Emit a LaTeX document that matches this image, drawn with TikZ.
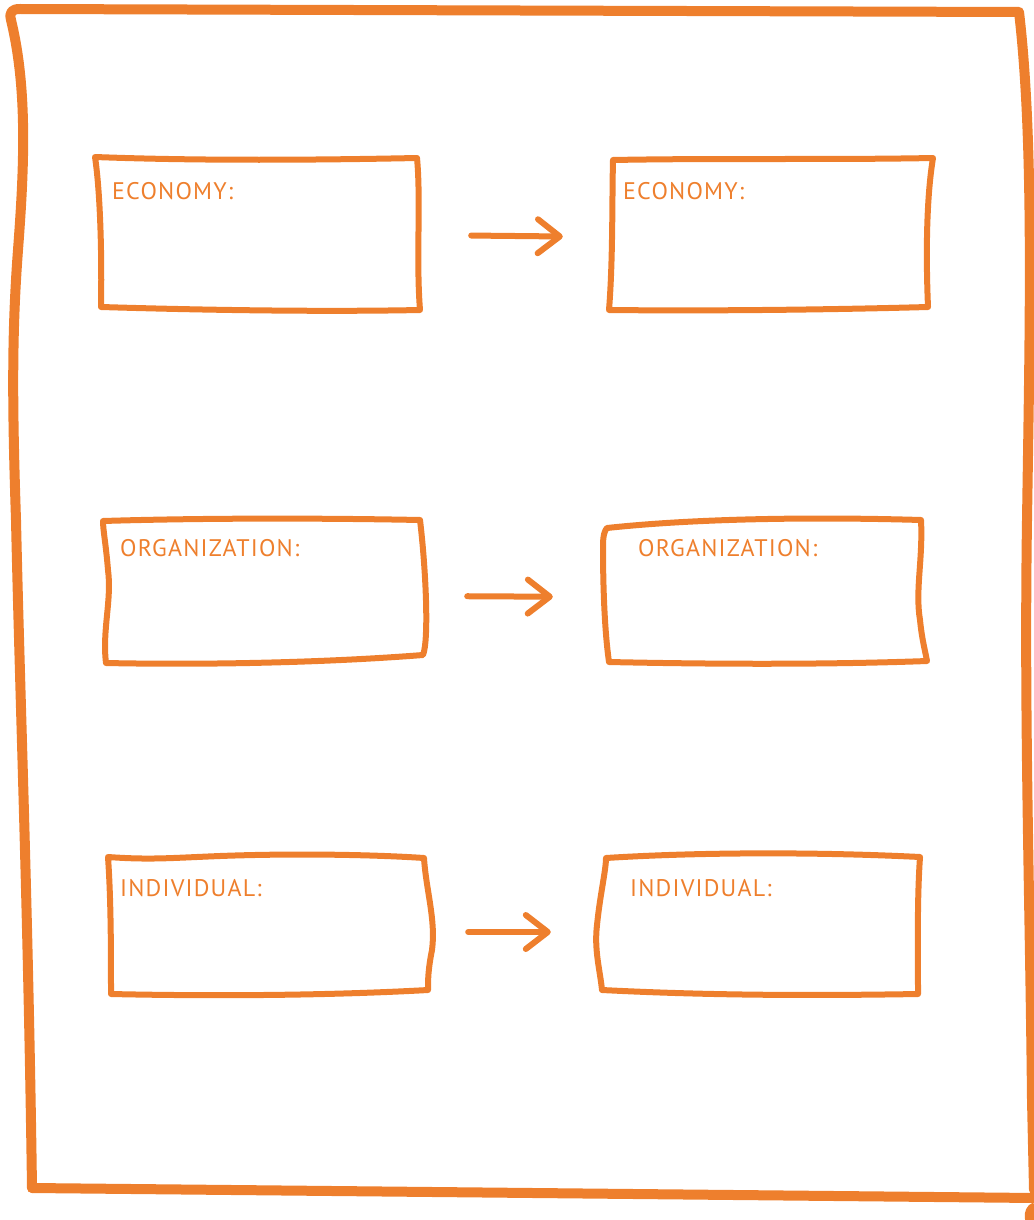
\documentclass[tikz,border=0pt]{standalone}
\usepackage{fontspec}
\setmainfont{PT Sans}
\usetikzlibrary{arrows.meta}
\definecolor{sketch}{RGB}{238,127,45}
\tikzset{
  frame/.style={draw=sketch, line width=10pt, line cap=round, line join=round},
  boxline/.style={draw=sketch, line width=6pt, line cap=round, line join=round},
  boxnode/.style={draw=none, inner sep=0pt, minimum height=152pt},
  lbl/.style={text=sketch, font=\addfontfeatures{LetterSpace=5}\fontsize{24}{28}\selectfont, anchor=base west, inner sep=0pt},
  conn/.style={draw=sketch, line width=6pt, line cap=round, -{Straight Barb[length=22pt,width=34pt,line width=6pt, round]}},
}
\begin{document}
\begin{tikzpicture}[x=1pt,y=-1pt]
\useasboundingbox (0,0) rectangle (1033,1220);
% outer sheet
\draw[frame] (32,1188) .. controls (28,900) and (20,700) .. (16,520)
  .. controls (12,400) and (12,330) .. (18,250)
  .. controls (24,170) and (28,90) .. (11,20)
  .. controls (9,12) and (12,9) .. (20,9)
  -- (1019,12)
  .. controls (1034,140) and (1030,320) .. (1027,520)
  .. controls (1024,720) and (1030,900) .. (1032,1100)
  -- (1034,1190);
\draw[frame] (32,1188) -- (1036,1198);
\draw[frame] (1033,1208) .. controls (1029,1212) and (1029,1217) .. (1031,1222);
% invisible box nodes
\node[boxnode, minimum width=322pt] (b1) at (258,233) {};
\node[boxnode, minimum width=320pt] (b2) at (771,234) {};
\node[boxnode, minimum width=320pt] (b3) at (265,592) {};
\node[boxnode, minimum width=320pt] (b4) at (765,592) {};
\node[boxnode, minimum width=322pt] (b5) at (270,925) {};
\node[boxnode, minimum width=320pt] (b6) at (760,925) {};
% box outlines
\draw[boxline] (95,157) .. controls (200,161) and (320,160) .. (417,158)
  .. controls (421,200) and (416,260) .. (420,310)
  .. controls (320,312) and (200,310) .. (101,307)
  .. controls (102,250) and (100,190) .. (95,157) -- cycle;
\draw[boxline] (613,160) .. controls (720,158) and (830,160) .. (933,158)
  .. controls (926,200) and (926,260) .. (928,307)
  .. controls (820,310) and (700,311) .. (609,310)
  .. controls (613,260) and (612,200) .. (613,160) -- cycle;
\draw[boxline] (103,521) .. controls (200,518) and (320,518) .. (420,520)
  .. controls (426,570) and (429,640) .. (423,655)
  .. controls (320,663) and (200,665) .. (106,663)
  .. controls (102,630) and (112,600) .. (108,570)
  .. controls (106,545) and (103,530) .. (103,521) -- cycle;
\draw[boxline] (607,528) .. controls (700,518) and (820,517) .. (921,520)
  .. controls (923,560) and (915,590) .. (920,620)
  .. controls (922,640) and (925,650) .. (927,661)
  .. controls (820,665) and (700,664) .. (609,662)
  .. controls (603,620) and (603,560) .. (603,545)
  .. controls (603,535) and (605,530) .. (607,528) -- cycle;
\draw[boxline] (108,857) .. controls (150,860) and (170,858) .. (220,856)
  .. controls (300,853) and (380,855) .. (424,858)
  .. controls (426,890) and (436,920) .. (432,950)
  .. controls (428,970) and (428,980) .. (428,990)
  .. controls (320,996) and (200,996) .. (111,994)
  .. controls (111,950) and (111,900) .. (108,857) -- cycle;
\draw[boxline] (606,858) .. controls (700,852) and (820,852) .. (920,857)
  .. controls (917,900) and (918,950) .. (918,994)
  .. controls (800,996) and (700,995) .. (602,990)
  .. controls (600,970) and (594,950) .. (597,925)
  .. controls (600,895) and (606,870) .. (606,858) -- cycle;
% labels
\node[lbl] (t1) at (112,199) {ECONOMY:};
\node[lbl] (t2) at (623,199) {ECONOMY:};
\node[lbl] (t3) at (120,556) {ORGANIZATION:};
\node[lbl] (t4) at (638,556) {ORGANIZATION:};
\node[lbl] (t5) at (120,896) {INDIVIDUAL:};
\node[lbl] (t6) at (630,896) {INDIVIDUAL:};
% arrows
\draw[conn, shorten <=52pt, shorten >=48pt] ([yshift=-2pt]b1.east) -- ([yshift=-3pt]b2.west);
\draw[conn, shorten <=42pt, shorten >=52pt] ([yshift=-4pt]b3.east) -- ([yshift=-5pt]b4.west);
\draw[conn, shorten <=37pt, shorten >=49pt] ([yshift=-7pt]b5.east) -- ([yshift=-7pt]b6.west);
\end{tikzpicture}
\end{document}
